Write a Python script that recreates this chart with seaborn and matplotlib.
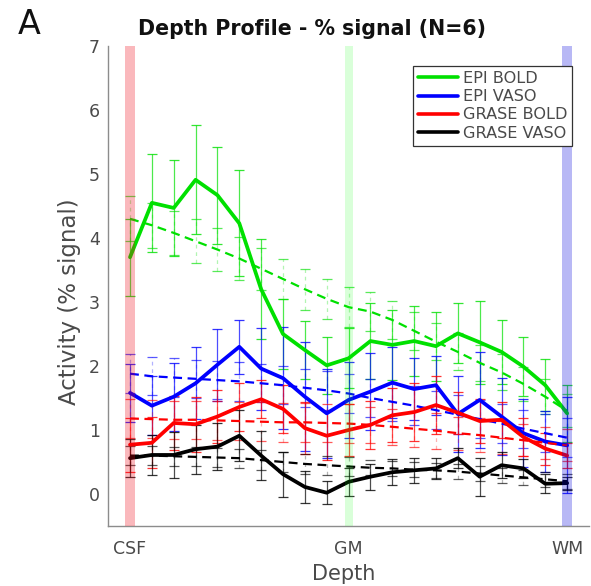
import numpy as np
import pandas as pd
import matplotlib
matplotlib.use("Agg")
import matplotlib.pyplot as plt
from matplotlib.lines import Line2D
import seaborn as sns

# ---- data -------------------------------------------------------------
depth = list(range(1, 22))
depth_ticks = [1, 11, 21]
depth_labels = ["CSF", "GM", "WM"]
series_names = ["EPI BOLD", "EPI VASO", "GRASE BOLD", "GRASE VASO"]

# measured laminar profiles (mean over subjects) and their error
epi_bold = [3.70, 4.55, 4.47, 4.91, 4.67, 4.23, 3.20, 2.50, 2.25, 2.01, 2.12,
            2.39, 2.33, 2.39, 2.31, 2.51, 2.37, 2.22, 1.99, 1.70, 1.26]
epi_bold_err = [0.60, 0.77, 0.75, 0.85, 0.76, 0.83, 0.78, 0.55, 0.46, 0.45, 0.47,
                0.60, 0.55, 0.55, 0.54, 0.47, 0.65, 0.50, 0.46, 0.41, 0.44]
epi_vaso = [1.58, 1.38, 1.52, 1.73, 2.02, 2.30, 1.96, 1.81, 1.52, 1.26, 1.47,
            1.60, 1.74, 1.64, 1.70, 1.25, 1.47, 1.21, 0.95, 0.82, 0.76]
epi_vaso_err = [0.45, 0.46, 0.53, 0.56, 0.56, 0.42, 0.64, 0.80, 0.85, 0.70, 0.60,
                0.60, 0.55, 0.48, 0.46, 0.59, 0.75, 0.60, 0.53, 0.47, 0.75]
grase_bold = [0.77, 0.80, 1.11, 1.09, 1.21, 1.36, 1.48, 1.33, 1.03, 0.91, 1.00,
              1.08, 1.23, 1.28, 1.39, 1.27, 1.14, 1.16, 0.89, 0.71, 0.60]
grase_bold_err = [0.42, 0.40, 0.42, 0.43, 0.42, 0.38, 0.30, 0.38, 0.40, 0.38, 0.40,
                  0.37, 0.42, 0.45, 0.45, 0.33, 0.35, 0.28, 0.30, 0.25, 0.20]
grase_vaso = [0.56, 0.61, 0.61, 0.70, 0.74, 0.91, 0.60, 0.31, 0.11, 0.02, 0.19,
              0.27, 0.34, 0.37, 0.40, 0.56, 0.27, 0.45, 0.40, 0.16, 0.17]
grase_vaso_err = [0.30, 0.31, 0.36, 0.38, 0.37, 0.40, 0.38, 0.35, 0.25, 0.18, 0.22,
                  0.20, 0.20, 0.20, 0.17, 0.16, 0.30, 0.20, 0.15, 0.15, 0.10]

# smooth trend profiles (dashed) and their error
epi_bold_trend = [4.30, 4.20, 4.08, 3.95, 3.82, 3.68, 3.52, 3.36, 3.20, 3.05, 2.92,
                  2.85, 2.72, 2.55, 2.38, 2.22, 2.05, 1.90, 1.72, 1.52, 1.30]
epi_bold_trend_err = [0.35, 0.35, 0.35, 0.34, 0.34, 0.33, 0.33, 0.32, 0.32, 0.31, 0.31,
                      0.30, 0.30, 0.30, 0.29, 0.29, 0.28, 0.28, 0.27, 0.27, 0.26]
epi_vaso_trend = [1.88, 1.84, 1.82, 1.80, 1.78, 1.76, 1.73, 1.70, 1.66, 1.62, 1.57,
                  1.50, 1.44, 1.38, 1.31, 1.24, 1.17, 1.10, 1.02, 0.95, 0.88]
epi_vaso_trend_err = [0.30, 0.30, 0.30, 0.30, 0.30, 0.30, 0.30, 0.30, 0.30, 0.30, 0.30,
                      0.30, 0.30, 0.30, 0.30, 0.30, 0.30, 0.30, 0.30, 0.30, 0.30]
grase_bold_trend = [1.18, 1.17, 1.16, 1.16, 1.15, 1.14, 1.13, 1.12, 1.12, 1.11, 1.10,
                    1.08, 1.05, 1.02, 0.99, 0.95, 0.92, 0.88, 0.84, 0.80, 0.76]
grase_bold_trend_err = [0.30, 0.30, 0.30, 0.30, 0.30, 0.30, 0.30, 0.30, 0.30, 0.30, 0.30,
                        0.28, 0.28, 0.28, 0.28, 0.26, 0.26, 0.26, 0.25, 0.25, 0.25]
grase_vaso_trend = [0.60, 0.60, 0.59, 0.58, 0.57, 0.56, 0.53, 0.50, 0.47, 0.45, 0.43,
                    0.41, 0.40, 0.38, 0.37, 0.35, 0.32, 0.29, 0.26, 0.23, 0.20]
grase_vaso_trend_err = [0.15, 0.15, 0.15, 0.15, 0.15, 0.15, 0.15, 0.15, 0.15, 0.15, 0.15,
                        0.12, 0.12, 0.12, 0.12, 0.12, 0.12, 0.12, 0.12, 0.12, 0.12]

colors = {"EPI BOLD": "#00e000", "EPI VASO": "#0000ff",
          "GRASE BOLD": "#ff0000", "GRASE VASO": "#000000"}

profiles = {"EPI BOLD": (epi_bold, epi_bold_err, epi_bold_trend, epi_bold_trend_err),
            "EPI VASO": (epi_vaso, epi_vaso_err, epi_vaso_trend, epi_vaso_trend_err),
            "GRASE BOLD": (grase_bold, grase_bold_err, grase_bold_trend, grase_bold_trend_err),
            "GRASE VASO": (grase_vaso, grase_vaso_err, grase_vaso_trend, grase_vaso_trend_err)}

rows = []
for name in series_names:
    mean, err, trend, trend_err = profiles[name]
    for d, v, e in zip(depth, mean, err):
        rows.append({"depth": d, "value": v, "err": e, "series": name, "kind": "profile"})
    for d, v, e in zip(depth, trend, trend_err):
        rows.append({"depth": d, "value": v, "err": e, "series": name, "kind": "trend"})
df = pd.DataFrame(rows)

# ---- figure -----------------------------------------------------------
sns.set_style("white")
plt.rcParams["font.family"] = ["DejaVu Sans"]
text_gray = "#4a4a4a"
axis_gray = "#8c8c8c"

fig = plt.figure(figsize=(5.91, 5.86), dpi=100)
ax = fig.add_axes([0.183, 0.1024, 0.8136, 0.819])

# error bars: solid for measured profiles, faint dashed for trends
for name in series_names:
    for kind in ("trend", "profile"):
        sub = df[(df.series == name) & (df.kind == kind)]
        eb = ax.errorbar(sub.depth, sub.value, yerr=sub.err, fmt="none",
                         ecolor=colors[name], elinewidth=0.9, capsize=3.3,
                         capthick=0.9, zorder=2)
        bars = eb[2][0]
        if kind == "trend":
            bars.set_linestyle((0, (3, 3)))
            bars.set_alpha(0.3)
            for cap in eb[1]:
                cap.set_alpha(0.65)
        else:
            bars.set_alpha(0.7)
            for cap in eb[1]:
                cap.set_alpha(0.8)

sns.lineplot(data=df, x="depth", y="value", hue="series", style="kind",
             size="kind", sizes={"profile": 2.7, "trend": 1.6},
             hue_order=series_names, palette=colors,
             dashes={"profile": "", "trend": (4, 2.5)},
             estimator=None, errorbar=None, legend=False, ax=ax, zorder=3)

# cortical depth markers
ax.axvspan(0.77, 1.23, color="#ee0010", alpha=0.28, lw=0, zorder=4)
ax.axvspan(10.82, 11.18, color="#00ff00", alpha=0.15, lw=0, zorder=4)
ax.axvspan(20.77, 21.23, color="#0000dd", alpha=0.28, lw=0, zorder=4)

ax.set_xlim(0, 22)
ax.set_ylim(-0.5, 7)
ax.set_xticks(depth_ticks)
ax.set_xticklabels(depth_labels)
ax.set_yticks(range(0, 8))
ax.tick_params(axis="both", direction="in", length=3, width=0.8,
               colors=axis_gray, labelcolor=text_gray, labelsize=12.5)
ax.tick_params(axis="x", pad=10)
ax.tick_params(axis="y", pad=6)
for side in ("top", "right"):
    ax.spines[side].set_visible(False)
for side in ("left", "bottom"):
    ax.spines[side].set_color(axis_gray)
    ax.spines[side].set_linewidth(1.0)

ax.set_xlabel("Depth", fontsize=15, color=text_gray)
ax.xaxis.set_label_coords(0.49, -0.08)
ax.set_ylabel("Activity (% signal)", fontsize=16.5, color=text_gray)
ax.yaxis.set_label_coords(-0.056, 0.467)
ax.set_title("Depth Profile - % signal (N=6)", fontsize=14.8,
             fontweight="bold", color="#111111", pad=8, x=0.424)
fig.text(0.03, 0.958, "A", fontsize=24, color="#111111", va="center", ha="left")

handles = [Line2D([0], [0], color=colors[n], lw=2.6) for n in series_names]
leg = ax.legend(handles, series_names, loc="upper right",
                bbox_to_anchor=(0.965, 0.958), borderaxespad=0,
                fontsize=11.6, frameon=True, fancybox=False, framealpha=1,
                edgecolor="#333333", handlelength=2.5, handletextpad=0.3,
                labelspacing=0.2, borderpad=0.3)
leg.get_frame().set_linewidth(0.9)
leg.set_zorder(10)
for t in leg.get_texts():
    t.set_color(text_gray)

fig.savefig("out.png", dpi=100)
